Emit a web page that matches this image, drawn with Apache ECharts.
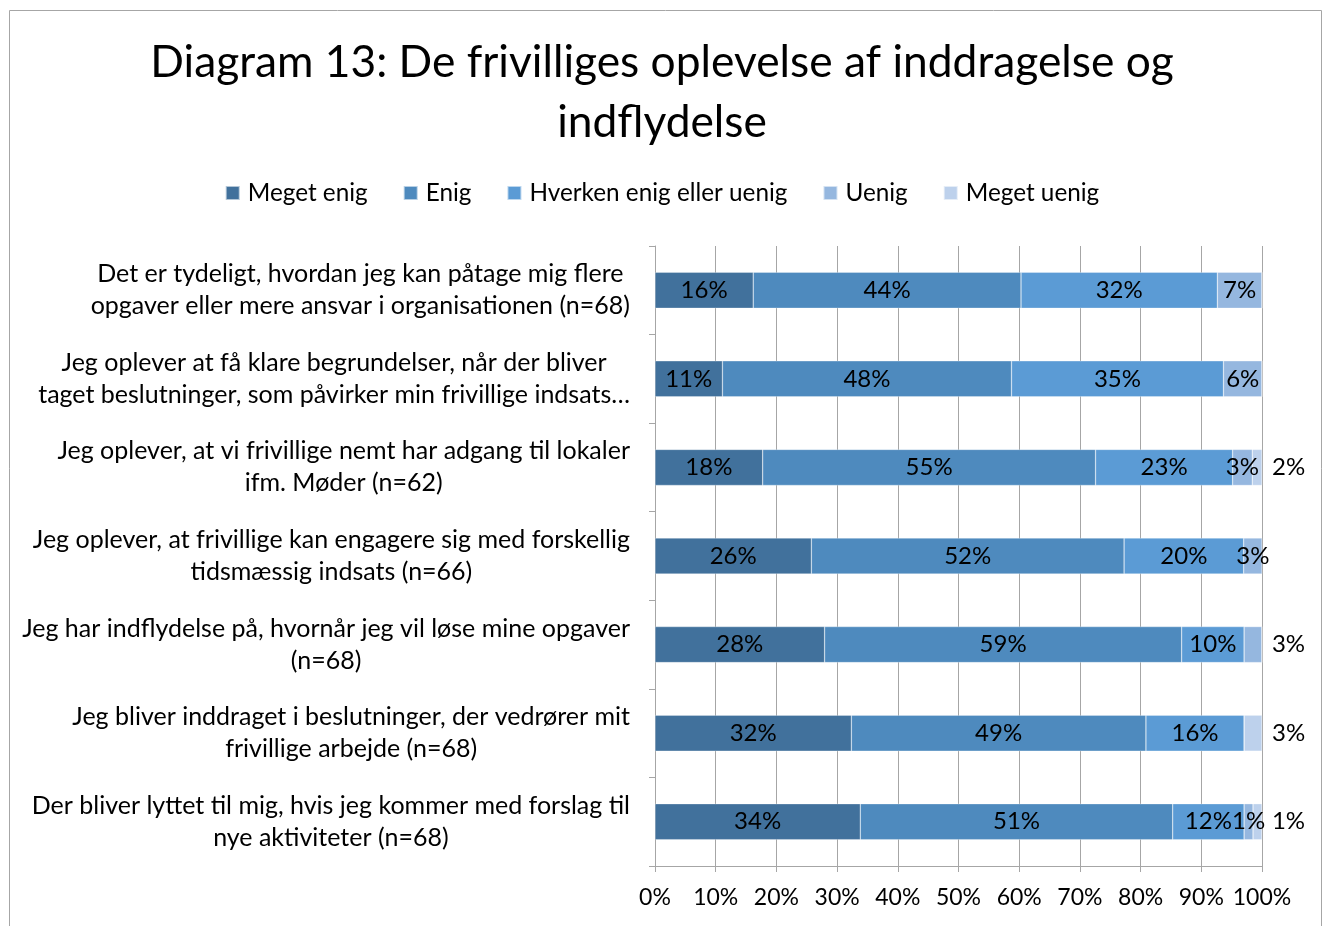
<!DOCTYPE html>
<html><head><meta charset="utf-8">
<script src="https://cdn.jsdelivr.net/npm/echarts@6/dist/echarts.min.js"></script>
<style>html,body{margin:0;padding:0;background:#fff}#c{width:1324px;height:926px}</style>
</head><body><div id="c"></div>
<script>
const categories = [
  "Det er tydeligt, hvordan jeg kan påtage mig flere\nopgaver eller mere ansvar i organisationen (n=68)",
  "Jeg oplever at få klare begrundelser, når der bliver\ntaget beslutninger, som påvirker min frivillige indsats…",
  "Jeg oplever, at vi frivillige nemt har adgang til lokaler\nifm. Møder (n=62)",
  "Jeg oplever, at frivillige kan engagere sig med forskellig\ntidsmæssig indsats (n=66)",
  "Jeg har indflydelse på, hvornår jeg vil løse mine opgaver\n(n=68)",
  "Jeg bliver inddraget i beslutninger, der vedrører mit\nfrivillige arbejde (n=68)",
  "Der bliver lyttet til mig, hvis jeg kommer med forslag til\nnye aktiviteter (n=68)"
];
const seriesNames = ["Meget enig", "Enig", "Hverken enig eller uenig", "Uenig", "Meget uenig"];
const megetEnig   = [16.18, 11.11, 17.74, 25.76, 27.94, 32.35, 33.82];
const enig        = [44.12, 47.62, 54.84, 51.52, 58.82, 48.53, 51.47];
const hverken     = [32.35, 34.92, 22.58, 19.70, 10.29, 16.18, 11.76];
const uenig       = [7.35, 6.35, 3.23, 3.03, 2.94, 0, 1.47];
const megetUenig  = [0, 0, 1.61, 0, 0, 2.94, 1.47];
const xTicks = [0, 10, 20, 30, 40, 50, 60, 70, 80, 90, 100];
const colors = ["#41719c", "#4e8abe", "#5b9bd5", "#95b7df", "#bdd1ec"];
const font = "Lato, 'Noto Sans', sans-serif";

const allData = [megetEnig, enig, hverken, uenig, megetUenig];
const fmt = p => p.value > 0 ? Math.round(p.value) + '%' : '';

const series = allData.map((arr, si) => ({
  name: seriesNames[si],
  type: 'bar',
  stack: 'total',
  barWidth: 36,
  itemStyle: { color: colors[si], borderColor: 'rgba(255,255,255,0.6)', borderWidth: 0.5 },
  label: {
    show: true,
    position: si === 4 ? 'right' : 'inside',
    distance: 10,
    color: '#000',
    fontSize: 24,
    fontFamily: font,
    formatter: fmt
  },
  data: arr.map((v, i) => {
    if (si === 3 && i === 4) {
      return { value: v, label: { position: 'right', distance: 10 } };
    }
    return v;
  })
}));

const chart = echarts.init(document.getElementById('c'), null, { renderer: 'canvas' });
chart.setOption({
  animation: false,
  color: colors,
  title: {
    text: "Diagram 13: De frivilliges oplevelse af inddragelse og\nindflydelse",
    left: 'center',
    top: 28,
    textStyle: { fontSize: 44.3, fontWeight: 'normal', color: '#000', fontFamily: font, lineHeight: 60 }
  },
  legend: {
    top: 176,
    left: 'center',
    itemWidth: 14,
    itemHeight: 14,
    itemGap: 35,
    icon: 'rect',
    textStyle: { fontSize: 24.3, color: '#000', fontFamily: font, padding: [0, 0, 0, 3] },
    data: seriesNames
  },
  graphic: [{
    type: 'rect',
    shape: { x: 9.5, y: 10.5, width: 1312, height: 940 },
    style: { fill: 'none', stroke: '#a6a6a6', lineWidth: 1 },
    silent: true
  }],
  grid: { left: 655, right: 62, top: 246, bottom: 60, containLabel: false },
  xAxis: {
    type: 'value',
    min: 0, max: 100, interval: 10,
    axisLine: { show: true, lineStyle: { color: '#a6a6a6' } },
    axisTick: { show: true, length: 6, lineStyle: { color: '#a6a6a6' } },
    splitLine: { show: true, lineStyle: { color: '#a6a6a6' } },
    axisLabel: {
      fontSize: 23, color: '#000', fontFamily: font, margin: 20,
      formatter: v => xTicks.includes(v) ? v + '%' : ''
    }
  },
  yAxis: {
    type: 'category',
    inverse: true,
    data: categories,
    axisLine: { show: true, lineStyle: { color: '#a6a6a6' } },
    axisTick: { show: true, length: 6, lineStyle: { color: '#a6a6a6' } },
    axisLabel: {
      margin: 25,
      align: 'right',
      formatter: v => v.split('\n').map(l => '{c|' + l + '}').join('\n'),
      rich: {
        c: { align: 'center', fontSize: 25, lineHeight: 32, color: '#000', fontFamily: font }
      }
    }
  },
  series: series
});
</script></body></html>
